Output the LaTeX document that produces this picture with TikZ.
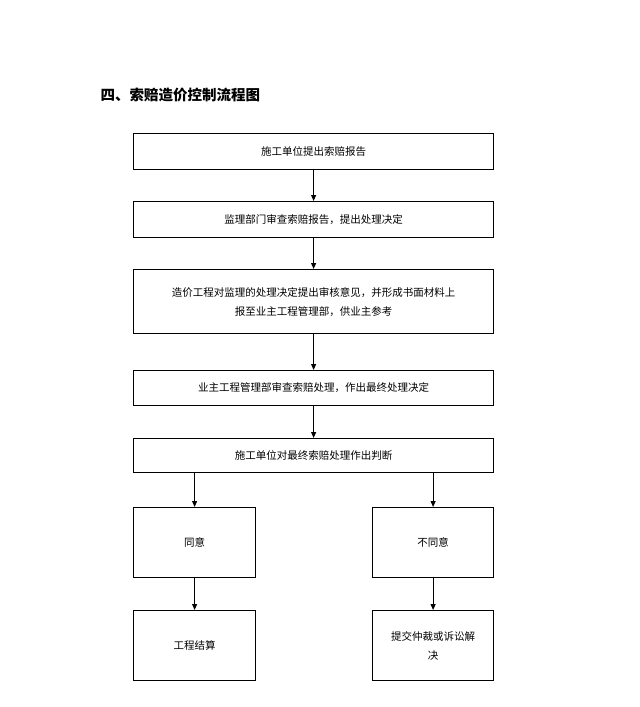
\documentclass[tikz,border=0pt]{standalone}
\usepackage{fontspec}
\setmainfont{Noto Sans CJK SC}
\usetikzlibrary{arrows.meta}
\begin{document}
\begin{tikzpicture}[x=1pt,y=-1pt,
 box/.style={draw,line width=1.2pt,minimum height=#1,anchor=north west,align=center,font=\fontsize{10.5}{19}\selectfont},
 arr/.style={-{Triangle[length=6pt,width=5pt]},line width=1pt}]
\useasboundingbox (0,0) rectangle (640,707);
\node[anchor=west,font=\fontsize{14.5}{16}\selectfont\bfseries] (t) at (97,95) {四、索赔造价控制流程图};
\node[box=36pt,minimum width=360pt] (b1) at (133,133) {施工单位提出索赔报告};
\node[box=36pt,minimum width=360pt] (b2) at (133,201) {监理部门审查索赔报告，提出处理决定};
\node[box=64pt,minimum width=360pt] (b3) at (133,269) {造价工程对监理的处理决定提出审核意见，并形成书面材料上\\报至业主工程管理部，供业主参考};
\node[box=35pt,minimum width=360pt] (b4) at (133,370) {业主工程管理部审查索赔处理，作出最终处理决定};
\node[box=34pt,minimum width=360pt] (b5) at (133,438) {施工单位对最终索赔处理作出判断};
\node[box=70pt,minimum width=122pt] (l1) at (133,507) {同意};
\node[box=70pt,minimum width=121pt] (r1) at (372,507) {不同意};
\node[box=70pt,minimum width=122pt] (l2) at (133,610) {工程结算};
\node[box=70pt,minimum width=121pt] (r2) at (372,610) {提交仲裁或诉讼解\\决};
\draw[arr] (b1.south) -- (b2.north);
\draw[arr] (b2.south) -- (b3.north);
\draw[arr] (b3.south) -- (b4.north);
\draw[arr] (b4.south) -- (b5.north);
\draw[arr] (b5.south -| l1.north) -- (l1.north);
\draw[arr] (b5.south -| r1.north) -- (r1.north);
\draw[arr] (l1.south) -- (l2.north);
\draw[arr] (r1.south) -- (r2.north);
\end{tikzpicture}
\end{document}
